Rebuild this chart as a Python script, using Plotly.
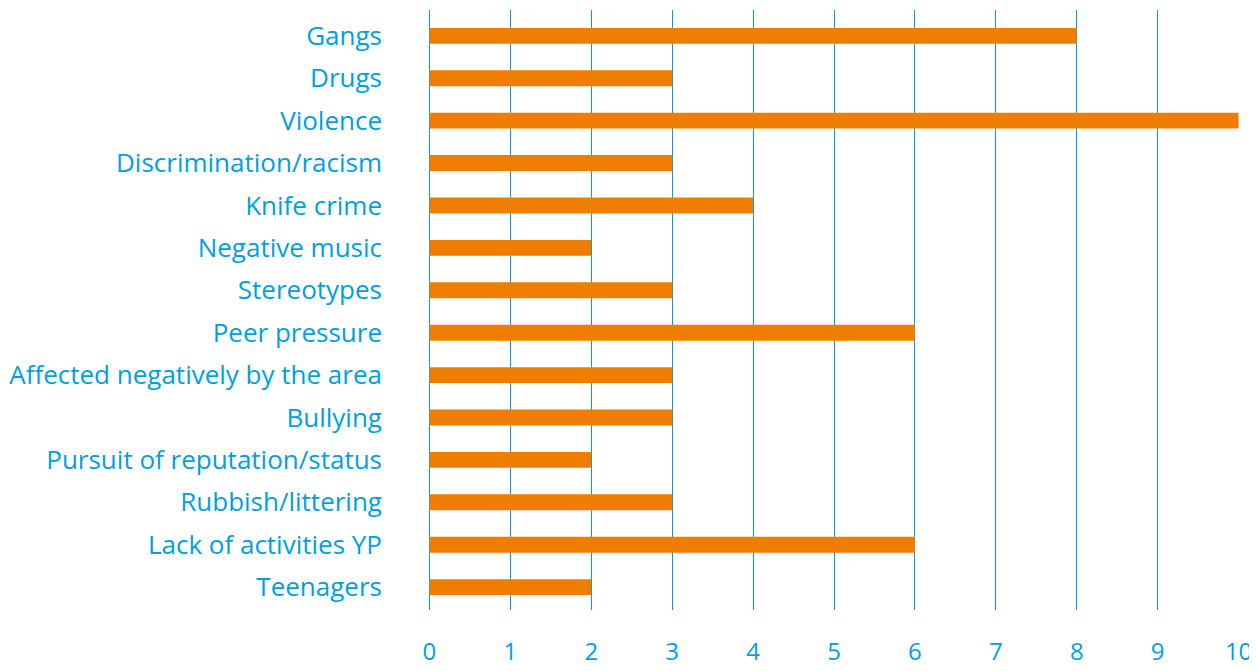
import plotly.graph_objects as go

categories = ["Gangs", "Drugs", "Violence", "Discrimination/racism", "Knife crime",
              "Negative music", "Stereotypes", "Peer pressure",
              "Affected negatively by the area", "Bullying",
              "Pursuit of reputation/status", "Rubbish/littering",
              "Lack of activities YP", "Teenagers"]
values = [8, 3, 10, 3, 4, 2, 3, 6, 3, 3, 2, 3, 6, 2]
x_ticks = list(range(0, 11))

BLUE = "#009FE3"
ORANGE = "#EF7D00"

fig = go.Figure(go.Bar(
    x=values, y=categories, orientation="h",
    marker_color=ORANGE, marker_line_width=0, width=0.375,
))

# the page body adds an 8px margin, so the figure is sized/margined to compensate
fig.update_layout(
    width=1249, height=663,
    margin=dict(l=421, r=18, t=2, b=61),
    paper_bgcolor="white", plot_bgcolor="white",
    font=dict(family="Open Sans", size=26, color=BLUE),
    showlegend=False,
)

fig.update_xaxes(
    range=[-0.005, 10.005], tickvals=x_ticks, showgrid=True, gridcolor=BLUE, gridwidth=1.3,
    zeroline=True, zerolinecolor=BLUE, zerolinewidth=1.3,
    showline=False, ticks="", ticklabelstandoff=25,
    tickfont=dict(size=24, color=BLUE), automargin=False,
)
fig.update_yaxes(
    categoryorder="array", categoryarray=categories,
    range=[13.54, -0.61], showgrid=False, zeroline=False, showline=False,
    ticks="", ticklabelstandoff=46, tickfont=dict(size=26, color=BLUE),
    automargin=False,
)

fig.write_html("out.html")
